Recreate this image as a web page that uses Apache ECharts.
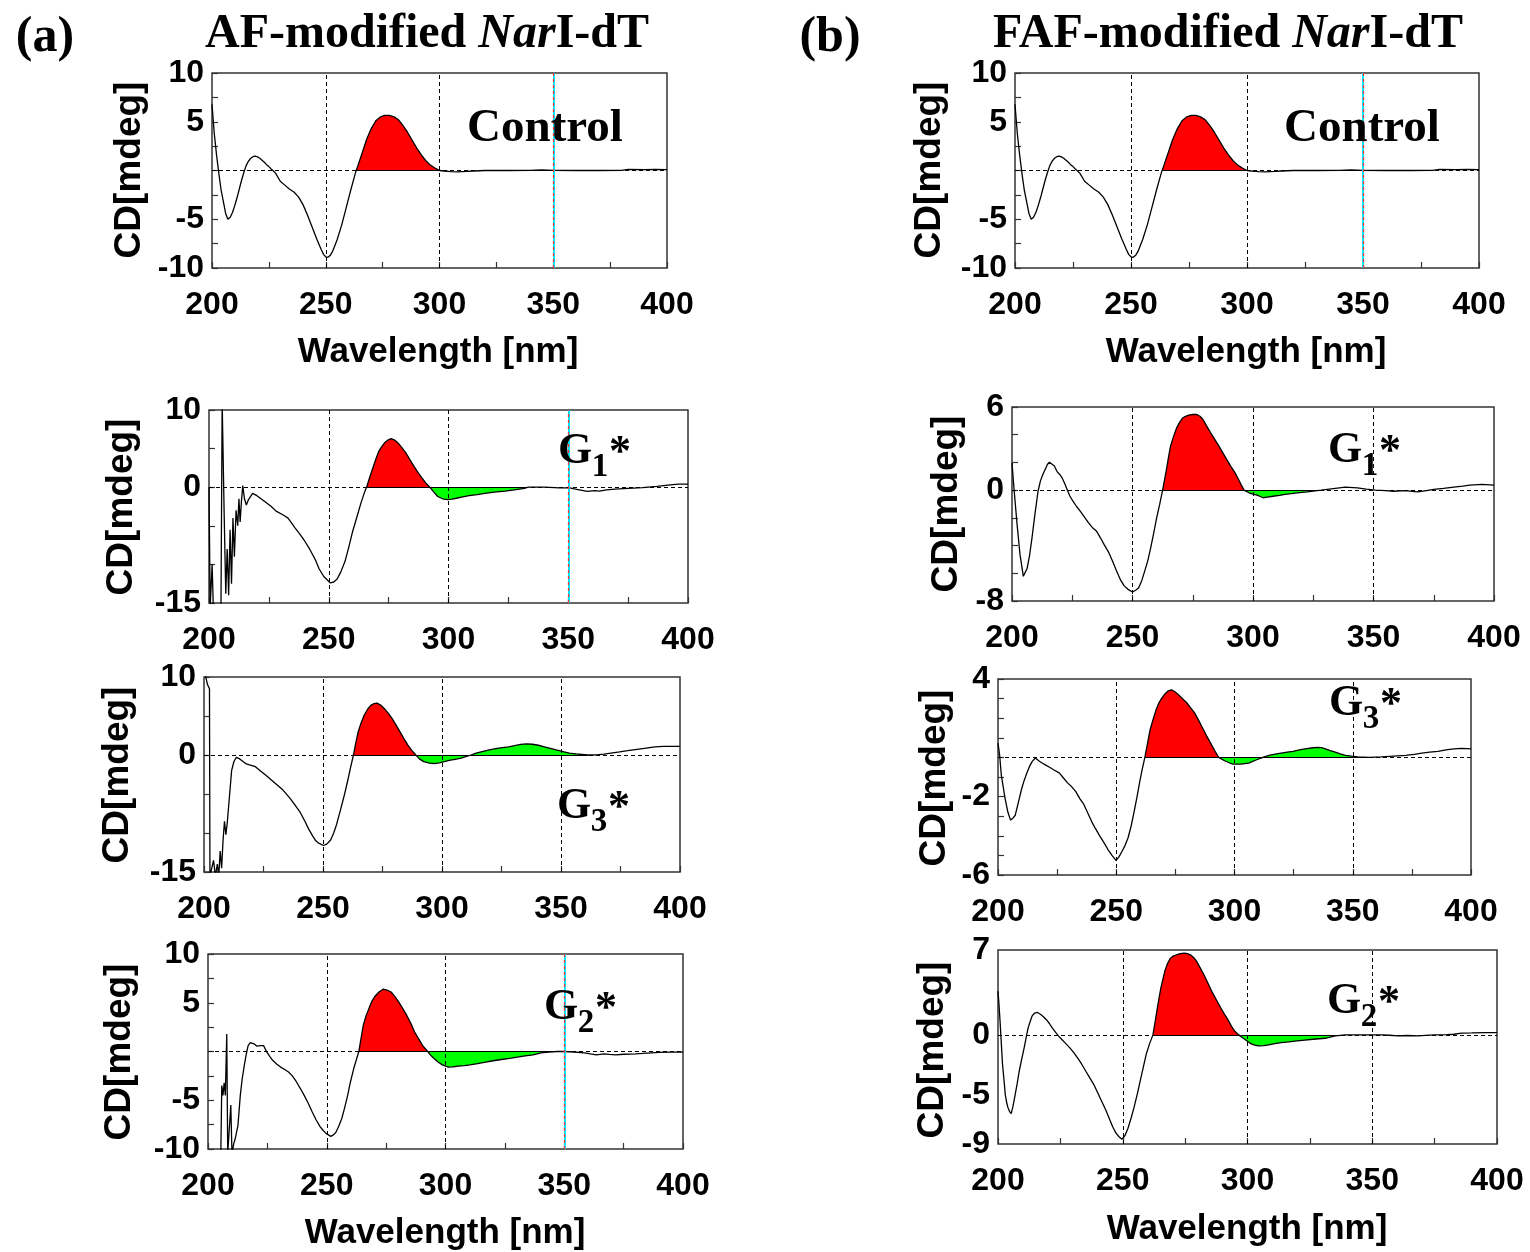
<!DOCTYPE html>
<html><head><meta charset="utf-8">
<script src="https://cdn.jsdelivr.net/npm/echarts@6/dist/echarts.min.js"></script>
<style>html,body{margin:0;padding:0;background:#fff;}#c{width:1530px;height:1252px;}</style>
</head><body><div id="c"></div>
<script>
// ---------------- DATA (wavelength nm, CD mdeg) ----------------
const cdControl = [[200,6.8],[201,3.8],[202,1.6],[203,-0.3],[204,-2.0],[205,-3.2],[206,-4.4],[207,-5.0],[208,-4.8],[209,-4.3],[210,-3.6],[211,-2.8],[212,-1.9],[213,-1.0],[214,-0.2],[215,0.5],[216,0.95],[217,1.25],[218,1.42],[219,1.48],[220,1.4],[221,1.25],[222,1.05],[223,0.85],[224,0.6],[225,0.4],[226,0.15],[227,-0.05],[228,-0.3],[230,-1.1],[232,-1.5],[234,-1.9],[236,-2.2],[238,-2.7],[240,-3.5],[242,-4.6],[244,-5.8],[246,-7.0],[248,-8.1],[249,-8.6],[250,-8.85],[251,-8.9],[252,-8.7],[253,-8.3],[255,-7.1],[257,-5.6],[259,-3.8],[261,-2.0],[263,-0.3],[263.4,0],[264,0.4],[266,1.8],[268,3.2],[270,4.3],[272,5.1],[274,5.5],[276,5.65],[278,5.65],[280,5.5],[282,5.2],[284,4.6],[286,3.9],[288,3.1],[290,2.3],[292,1.6],[294,1.0],[296,0.55],[298,0.25],[300,0],[302,-0.05],[305,-0.12],[308,-0.15],[312,-0.1],[315,-0.05],[320,0],[330,0],[340,0.02],[345,0.05],[350,0.02],[360,0],[370,0],[380,0.02],[383,0.12],[390,0.1],[395,0.12],[400,0.1]];

const cdAF_G1 = [[200,0],[200.5,-15.5],[201.3,-10],[201.8,-15.5],[205,-15.5],[205.5,11],[206,11],[206.3,-3],[207,-13.8],[207.6,-8],[208.2,-14],[208.8,-5.5],[209.4,-12.5],[210,-4],[210.6,-9],[211.3,-3],[212,-5],[212.5,-1.5],[213,-4.5],[213.5,-2],[214.1,0.2],[214.8,-1.5],[215.6,-2.3],[216.5,-1.6],[218.2,-0.8],[220,-1.1],[223,-1.8],[226,-2.5],[228,-3.1],[231,-3.6],[233,-4.0],[236,-5.3],[238,-6.1],[240,-7.0],[242,-8.0],[244.4,-9.4],[246,-10.6],[248,-11.6],[250.7,-12.4],[252,-12.3],[253.5,-11.9],[255,-11.0],[256.8,-9.6],[258.5,-7.6],[260,-5.7],[262,-3.6],[263.4,-2.1],[265,-0.6],[265.8,0],[267,1.2],[268.3,2.4],[269.5,3.5],[270.8,4.6],[272,5.2],[273.3,5.75],[274.7,6.1],[276,6.3],[277.5,6.1],[279,5.7],[280.6,5.1],[282.3,4.4],[284,3.5],[285.6,2.7],[287.3,1.9],[288.9,1.2],[290.5,0.55],[292.2,0],[293.8,-0.6],[295.5,-1.2],[297.5,-1.5],[299.6,-1.6],[301.5,-1.55],[303.7,-1.4],[306,-1.25],[308.6,-1.1],[312,-0.95],[315.2,-0.8],[319,-0.65],[323.5,-0.5],[327.5,-0.35],[331.7,-0.15],[333.3,0],[340,0.02],[346.5,-0.1],[350.6,-0.1],[354,-0.3],[358,-0.55],[361,-0.45],[363,-0.5],[366,-0.35],[369.5,-0.25],[375,-0.15],[381,-0.05],[387,0.1],[392.6,0.3],[396,0.4],[400,0.4]];

const cdAF_G3 = [[200,11],[200.8,11],[201.5,9],[202.3,8.5],[202.5,-15.5],[203.3,-15.5],[204,-13.5],[204.8,-15.5],[205.6,-14],[206.2,-15.5],[206.8,-12.3],[207.4,-14.5],[208,-11],[208.6,-8.5],[209.2,-10.2],[209.8,-8.6],[210.6,-8.8],[211.6,-2],[212.6,-0.8],[213.6,-0.3],[215,-0.5],[217.5,-1.1],[219.5,-1.3],[221.6,-1.5],[224,-2.1],[226,-2.6],[228.3,-3.2],[231,-3.9],[233.2,-4.5],[236,-5.5],[238.2,-6.4],[240.5,-7.4],[242.4,-8.5],[244,-9.5],[245.7,-10.4],[247,-11.0],[248.2,-11.3],[250.2,-11.6],[251.7,-11.4],[253.2,-10.9],[254.5,-10.0],[255.7,-8.9],[257.3,-7.1],[259,-5.1],[260.3,-3.4],[261.5,-1.7],[262.8,0],[263.8,1.6],[264.8,3.0],[266,4.1],[267.3,5.1],[268.8,5.9],[270.2,6.4],[271.5,6.6],[272.7,6.65],[274.2,6.4],[275.6,6.0],[277.3,5.4],[279,4.7],[280.6,3.9],[282.3,3.0],[284,2.1],[285.6,1.3],[287.3,0.6],[289,0],[290.5,-0.5],[292.3,-0.85],[294.8,-1.05],[296.8,-1.1],[298.9,-1.0],[301,-0.85],[303,-0.7],[305.5,-0.55],[308,-0.4],[310,-0.2],[312.2,0],[314,0.2],[316.4,0.4],[319,0.6],[321.4,0.75],[324.5,0.9],[328,1.05],[330.5,1.2],[333,1.35],[335.5,1.42],[338,1.38],[340.5,1.25],[343,1.05],[345.5,0.85],[348,0.65],[351.3,0.4],[353.5,0.25],[356.3,0.15],[361.3,0],[365,0.02],[368,0.1],[371,0.25],[374.6,0.4],[378,0.55],[381.2,0.7],[385,0.85],[389.5,1.05],[393,1.1],[396,1.1],[400,1.1]];

const cdAF_G2 = [[205.4,-10.5],[205.8,-3.5],[206.3,-4.5],[206.8,-3.2],[207.3,-4.5],[207.9,1.8],[208.3,-10.5],[209.1,-10.5],[209.6,-5.5],[210.1,-10.5],[210.8,-9.5],[211.5,-8.9],[212.6,-7.6],[213.6,-4.5],[214.4,-2.8],[215.3,-1.4],[216.1,-0.3],[216.9,0.6],[217.8,0.9],[218.6,1.0],[219.6,0.75],[220.6,0.55],[222,0.6],[223.4,0.6],[224.8,-0.07],[226,-0.5],[227.2,-0.9],[229,-1.3],[230.6,-1.6],[232.3,-1.85],[233.9,-2.1],[235.5,-2.5],[237.2,-3.1],[238.9,-3.8],[240.5,-4.5],[242.2,-5.3],[243.9,-6.2],[245.5,-7.0],[247.2,-7.7],[248.5,-8.1],[249.7,-8.4],[251.7,-8.7],[252.8,-8.55],[253.8,-8.3],[255,-7.7],[256.3,-6.9],[257.5,-5.8],[258.8,-4.5],[260,-3.1],[261.3,-1.8],[262.4,-0.9],[263.5,0],[264.4,1.3],[265.4,2.7],[266.6,3.7],[267.9,4.5],[269.1,5.2],[270.4,5.7],[272,6.1],[273.8,6.4],[275.4,6.3],[277.1,6.1],[278.8,5.6],[280.4,5.05],[282,4.4],[283.7,3.7],[285.4,2.9],[287,2.0],[288.7,1.3],[290.4,0.6],[292.5,0],[294,-0.45],[295.3,-0.75],[297,-1.1],[298.7,-1.37],[301.2,-1.6],[303,-1.58],[305.3,-1.5],[308,-1.45],[310.3,-1.37],[313.5,-1.25],[316.9,-1.1],[320,-0.95],[323.6,-0.82],[327,-0.7],[330.2,-0.58],[333.5,-0.45],[336.9,-0.34],[340.2,-0.14],[343.5,-0.07],[347,0],[350.2,0],[354,-0.05],[358.5,-0.14],[361,-0.25],[363.5,-0.34],[366.8,-0.24],[369,-0.3],[371.8,-0.34],[375,-0.28],[380.1,-0.24],[383,-0.2],[386.7,-0.14],[390,-0.1],[395,-0.07],[400,-0.07]];

const cdFAF_G1 = [[200,1.97],[200.8,0.17],[202,-2.27],[203.3,-4.62],[204.7,-6.22],[205.5,-6.13],[206.3,-5.63],[207.3,-4.70],[208.3,-3.44],[209.5,-1.76],[210.8,-0.08],[211.8,0.67],[212.8,1.13],[213.8,1.51],[214.7,1.85],[215.5,2.02],[216.3,2.10],[217.5,1.76],[218.7,1.34],[219.8,1.13],[220.8,0.88],[222,0.42],[223,0],[224,-0.42],[225.3,-0.80],[226.8,-1.18],[228.3,-1.51],[230,-1.93],[231.7,-2.35],[233.3,-2.69],[235,-2.94],[236.7,-3.44],[238.3,-3.95],[240,-4.45],[241.7,-5.12],[243.3,-5.80],[245,-6.47],[246.5,-6.89],[248,-7.14],[250,-7.35],[251.3,-7.22],[252.5,-7.06],[253.8,-6.55],[255,-5.88],[256.3,-5.12],[257.5,-4.20],[258.8,-3.11],[260,-2.02],[261.3,-1.01],[262.5,0],[263.3,0.76],[264.2,1.60],[265,2.44],[265.8,3.19],[267,3.86],[268.3,4.49],[269.5,4.87],[270.8,5.21],[272,5.33],[273.3,5.42],[275,5.46],[276.7,5.46],[278,5.33],[279.2,5.12],[280.8,4.62],[282.5,4.12],[284.2,3.65],[285.8,3.19],[287.5,2.69],[289.2,2.18],[290.8,1.72],[292.5,1.26],[293.8,0.84],[295,0.42],[296.3,0],[298.3,-0.19],[300,-0.29],[301.7,-0.36],[303,-0.46],[304.2,-0.55],[306,-0.50],[308.3,-0.44],[311,-0.38],[313.3,-0.31],[316,-0.25],[318.3,-0.19],[322.5,-0.12],[325,-0.07],[328.3,0],[331.7,0.08],[335,0.15],[338.3,0.22],[343.3,0.17],[347,0.08],[350.8,0],[355,-0.04],[358.3,-0.08],[363,-0.04],[368.3,-0.12],[372,-0.04],[375,0.05],[379,0.13],[383.3,0.22],[387,0.29],[390,0.36],[395,0.41],[400,0.36]];

const cdFAF_G3 = [[200,0.73],[200.7,0.1],[201.4,-0.9],[202.2,-1.5],[203,-2.1],[204.2,-2.8],[205.3,-3.2],[206.3,-3.1],[207.3,-2.95],[208.2,-2.5],[209,-2.1],[210,-1.6],[211,-1.2],[212.2,-0.8],[213.3,-0.46],[214.5,-0.2],[215.8,-0.03],[216.6,-0.1],[217.5,-0.2],[218.8,-0.3],[220,-0.38],[221.8,-0.5],[223.5,-0.63],[226,-0.8],[227.7,-1.05],[229.4,-1.3],[231.2,-1.5],[232.9,-1.75],[234.6,-2.1],[236.3,-2.4],[238,-2.85],[239.7,-3.3],[241.3,-3.65],[243,-4.0],[244.8,-4.35],[246.5,-4.7],[248.2,-5.0],[249.9,-5.25],[251,-5.1],[252.4,-4.8],[253.7,-4.5],[255,-4.1],[256.3,-3.5],[257.5,-2.8],[258.8,-2.0],[260,-1.2],[261,-0.6],[262.1,0],[263.2,0.7],[264.3,1.4],[265.6,1.95],[266.9,2.45],[268.1,2.8],[269.4,3.05],[270.7,3.25],[272,3.4],[273.4,3.45],[274.8,3.35],[276.3,3.2],[278,3.0],[279.7,2.8],[281.3,2.55],[283,2.3],[284.8,1.9],[286.5,1.5],[288.2,1.1],[289.9,0.73],[291.6,0.35],[293.3,0],[295.8,-0.17],[297.5,-0.26],[299.2,-0.34],[302.6,-0.34],[306,-0.29],[309.4,-0.12],[312,0],[314.6,0.1],[317.2,0.17],[319.7,0.22],[322.3,0.27],[324.8,0.31],[327.4,0.38],[329.9,0.44],[332.5,0.48],[335,0.51],[336.8,0.5],[338.4,0.44],[340.5,0.35],[342.6,0.27],[344.7,0.18],[346.9,0.1],[349.5,0.06],[352,0.03],[357,0],[362,0.03],[367.3,0.07],[372.4,0.1],[376,0.15],[379.2,0.22],[382.5,0.27],[386,0.31],[389.4,0.38],[392.8,0.44],[396,0.46],[400,0.44]];

const cdFAF_G2 = [[200,3.6],[200.4,2.5],[200.8,1.2],[201.3,-0.6],[201.8,-2.4],[202.4,-3.7],[202.9,-4.9],[203.5,-5.6],[204,-6.0],[204.6,-6.3],[205.3,-6.5],[206,-5.9],[206.9,-4.9],[207.7,-4.0],[208.5,-3.0],[209.5,-2.0],[210.5,-1.05],[211.3,-0.2],[212.1,0.6],[212.9,1.1],[213.7,1.57],[214.7,1.8],[215.8,1.85],[217,1.7],[218.2,1.5],[219.4,1.25],[220.6,0.94],[221.8,0.55],[223.1,0.2],[224.3,-0.1],[225.5,-0.36],[227.1,-0.7],[228.7,-1.05],[230.3,-1.45],[231.9,-1.9],[233.5,-2.4],[235.2,-3.0],[236.8,-3.55],[238.4,-4.1],[240,-4.8],[241.6,-5.5],[243.2,-6.2],[244.8,-7.0],[246,-7.6],[247.3,-8.1],[248.5,-8.4],[249.7,-8.6],[250.9,-8.3],[252.1,-7.7],[253.3,-6.9],[254.5,-6.0],[255.8,-4.9],[257,-3.8],[258.2,-2.7],[259.4,-1.6],[260.8,-0.7],[262.1,0],[262.9,1.0],[263.7,2.0],[264.5,3.0],[265.3,3.9],[266.1,4.6],[266.9,5.3],[268,5.9],[269,6.3],[270.2,6.5],[271.5,6.6],[273,6.7],[274.7,6.75],[275.9,6.7],[277.1,6.6],[278.3,6.4],[279.5,6.1],[281.1,5.5],[282.7,4.9],[284.3,4.2],[285.9,3.5],[287.5,2.9],[289.2,2.26],[290.8,1.7],[292.4,1.17],[293.6,0.7],[294.8,0.33],[296.5,0],[297.7,-0.2],[298.9,-0.36],[300.1,-0.55],[301.3,-0.72],[302.9,-0.85],[304.5,-0.91],[306.5,-0.88],[308.5,-0.83],[311,-0.72],[313.4,-0.64],[316.6,-0.57],[319.8,-0.5],[323,-0.43],[326.3,-0.36],[331.1,-0.28],[335.2,-0.08],[339.2,0],[344,0],[350,0],[353.7,0],[357,-0.03],[360.2,-0.08],[364,-0.05],[368.2,-0.08],[374.7,0],[380,0.02],[382.7,0.05],[385.9,0.14],[390,0.16],[395,0.19],[400,0.19]];

// x tick labels (nm) and per-panel y tick labels
const xTickLabels = [200, 250, 300, 350, 400];
const yLabelsCtrl = [10, 5, -5, -10];
const yLabelsAF_G1 = [10, 0, -15];
const yLabelsAF_G3 = [10, 0, -15];
const yLabelsAF_G2 = [10, 5, -5, -10];
const yLabelsFAF_G1 = [6, 0, -8];
const yLabelsFAF_G3 = [4, -2, -6];
const yLabelsFAF_G2 = [7, 0, -5, -9];

// positive (red) and following (green) bands, wavelength ranges
const redCtrl = [263.4, 300];
const redAF_G1 = [265.8, 292.2], greenAF_G1 = [292.2, 333.3];
const redAF_G3 = [262.8, 289], greenAF_G3 = [289, 361.3];
const redAF_G2 = [263.5, 292.5], greenAF_G2 = [292.5, 347];
const redFAF_G1 = [262.5, 296.3], greenFAF_G1 = [296.3, 328.3];
const redFAF_G3 = [262.1, 293.3], greenFAF_G3 = [293.3, 357];
const redFAF_G2 = [262.1, 296.5], greenFAF_G2 = [296.5, 339.2];

// ---------------- PANELS ----------------
// order: a1, b1, a2, b2, a3, b3, a4, b4
const panels = [
  {data: cdControl, yr: [-10, 10], yl: yLabelsCtrl, step: 2.5, ticks: true, red: redCtrl, green: null, cyan: true, tag: null},
  {data: cdControl, yr: [-10, 10], yl: yLabelsCtrl, step: 2.5, ticks: true, red: redCtrl, green: null, cyan: true, tag: null},
  {data: cdAF_G1, yr: [-15, 10], yl: yLabelsAF_G1, step: 5, ticks: true, red: redAF_G1, green: greenAF_G1, cyan: true, tag: '1'},
  {data: cdFAF_G1, yr: [-8, 6], yl: yLabelsFAF_G1, step: 2, ticks: true, red: redFAF_G1, green: greenFAF_G1, cyan: false, tag: '1'},
  {data: cdAF_G3, yr: [-15, 10], yl: yLabelsAF_G3, step: 5, ticks: true, red: redAF_G3, green: greenAF_G3, cyan: false, tag: '3'},
  {data: cdFAF_G3, yr: [-6, 4], yl: yLabelsFAF_G3, step: 1, ticks: true, red: redFAF_G3, green: greenFAF_G3, cyan: false, tag: '3'},
  {data: cdAF_G2, yr: [-10, 10], yl: yLabelsAF_G2, step: 2.5, ticks: true, red: redAF_G2, green: greenAF_G2, cyan: true, tag: '2'},
  {data: cdFAF_G2, yr: [-9, 7], yl: yLabelsFAF_G2, step: 1, ticks: false, red: redFAF_G2, green: greenFAF_G2, cyan: false, tag: '2'}
];
// layout: [left, top, width, height]
const layout = [
  [212, 73, 455, 195], [1015, 73, 464, 195],
  [209, 410, 479, 193], [1012, 407, 482, 194],
  [204, 677, 476, 195], [998, 679, 473, 196],
  [208, 954, 475, 195], [998, 950, 499, 194]
];

const SANS = '"Liberation Sans", Arial, sans-serif';
const SERIF = '"Liberation Serif", "Times New Roman", serif';

const grids = [], xAxes = [], yAxes = [], series = [];
panels.forEach((p, i) => {
  const L = layout[i];
  grids.push({left: L[0], top: L[1], width: L[2], height: L[3], show: true,
    borderColor: '#333', borderWidth: 1.5, backgroundColor: '#fff', containLabel: false});
  xAxes.push({type: 'value', gridIndex: i, min: 200, max: 400, interval: 25,
    axisLine: {show: false, onZero: false}, splitLine: {show: false},
    axisTick: {show: true, inside: true, length: 6, lineStyle: {color: '#333', width: 1.2}},
    axisLabel: {margin: 21, color: '#000', fontFamily: SANS, fontWeight: 'bold', fontSize: 32,
      formatter: v => xTickLabels.some(t => Math.abs(t - v) < 1e-6) ? String(v) : ''}});
  yAxes.push({type: 'value', gridIndex: i, min: p.yr[0], max: p.yr[1], interval: p.step,
    axisLine: {show: false, onZero: false}, splitLine: {show: false},
    axisTick: {show: p.ticks, inside: true, length: 6, lineStyle: {color: '#333', width: 1.2}},
    axisLabel: {margin: 8, color: '#000', fontFamily: SANS, fontWeight: 'bold', fontSize: 32,
      padding: [7, 0, 0, 0], showMinLabel: true, showMaxLabel: true,
      formatter: v => { const m = p.yl.find(t => Math.abs(t - v) < 1e-6); return m === undefined ? '' : String(m); }}});

  const band = (r) => p.data.filter(d => d[0] >= r[0] - 1e-9 && d[0] <= r[1] + 1e-9);
  series.push({type: 'line', xAxisIndex: i, yAxisIndex: i, data: band(p.red), showSymbol: false, silent: true,
    lineStyle: {width: 0}, areaStyle: {color: '#ff0000', opacity: 1}, z: 1});
  if (p.green) series.push({type: 'line', xAxisIndex: i, yAxisIndex: i, data: band(p.green), showSymbol: false, silent: true,
    lineStyle: {width: 0}, areaStyle: {color: '#00ff00', opacity: 1}, z: 1});

  const dash = {type: [4, 3], color: '#000', width: 1};
  const ml = [{xAxis: 250, lineStyle: dash}, {xAxis: 300, lineStyle: dash}, {yAxis: 0, lineStyle: dash}];
  if (p.cyan) {
    ml.push({xAxis: 350, lineStyle: {type: 'solid', color: '#00e8ff', width: 2}});
    ml.push({xAxis: 350, lineStyle: {type: [3, 3], color: '#ff3030', width: 1.2}});
  } else {
    ml.push({xAxis: 350, lineStyle: dash});
  }
  const solid = {type: 'solid', color: '#000', width: 1.2};
  ml.push([{coord: [p.red[0], 0], lineStyle: solid}, {coord: [p.red[1], 0]}]);
  if (p.green) ml.push([{coord: [p.green[0], 0], lineStyle: solid}, {coord: [p.green[1], 0]}]);

  series.push({type: 'line', xAxisIndex: i, yAxisIndex: i, data: p.data, showSymbol: false, silent: true,
    clip: true, lineStyle: {color: '#000', width: 1.3}, z: 3,
    markLine: {silent: true, symbol: ['none', 'none'], label: {show: false}, animation: false, data: ml}});
});

// ---------------- TEXT ----------------
function txt(text, x, y, font) {
  return {type: 'text', x: x, y: y, silent: true, z: 10,
    style: {text: text, font: font, fill: '#000', textAlign: 'center', textVerticalAlign: 'middle',
      align: 'center', verticalAlign: 'middle'}};
}
const graphics = [];
const titleRich = {i: {fontFamily: SERIF, fontWeight: 'bold', fontStyle: 'italic', fontSize: 48}};
graphics.push(txt('(a)', 45, 38, 'bold 50px ' + SERIF));
graphics.push(txt('(b)', 830, 38, 'bold 50px ' + SERIF));
graphics.push({type: 'text', x: 427, y: 35, silent: true, z: 10, style: {text: 'AF-modified {i|Nar}I-dT', fontFamily: SERIF, fontWeight: 'bold', fontSize: 48, fill: '#000', textAlign: 'center', textVerticalAlign: 'middle', align: 'center', verticalAlign: 'middle', rich: titleRich}});
graphics.push({type: 'text', x: 1228, y: 35, silent: true, z: 10, style: {text: 'FAF-modified {i|Nar}I-dT', fontFamily: SERIF, fontWeight: 'bold', fontSize: 48, fill: '#000', textAlign: 'center', textVerticalAlign: 'middle', align: 'center', verticalAlign: 'middle', rich: titleRich}});

graphics.push(txt('Control', 545, 129, 'bold 47px ' + SERIF));
graphics.push(txt('Control', 1362, 129, 'bold 47px ' + SERIF));

const cdPos = [[130, 170], [930, 170], [122, 507], [947, 504], [118, 775], [935, 778], [120, 1052], [933, 1050]];
cdPos.forEach(c => graphics.push(Object.assign(txt('CD[mdeg]', c[0], c[1], 'bold 37px ' + SANS), {rotation: Math.PI / 2})));

[[438, 352], [1246, 352], [445, 1233], [1247, 1229]].forEach(c => graphics.push(txt('Wavelength [nm]', c[0], c[1], 'bold 35px ' + SANS)));

// G labels: centre of the "G"
const gPos = {2: [575, 452], 3: [1345, 451], 4: [574, 807], 5: [1346, 704], 6: [561, 1008], 7: [1344, 1002]};
Object.keys(gPos).forEach(k => {
  const g = gPos[k], tag = panels[k].tag;
  graphics.push(txt('G', g[0], g[1], 'bold 44px ' + SERIF));
  graphics.push(txt(tag, g[0] + 25, g[1] + 15, 'bold 33px ' + SERIF));
  graphics.push(txt('*', g[0] + 45, g[1] + 2, 'bold 44px ' + SERIF));
});

const chart = echarts.init(document.getElementById('c'), null, {renderer: 'canvas'});
chart.setOption({animation: false, backgroundColor: '#fff', grid: grids, xAxis: xAxes, yAxis: yAxes, series: series, graphic: graphics});
</script></body></html>
